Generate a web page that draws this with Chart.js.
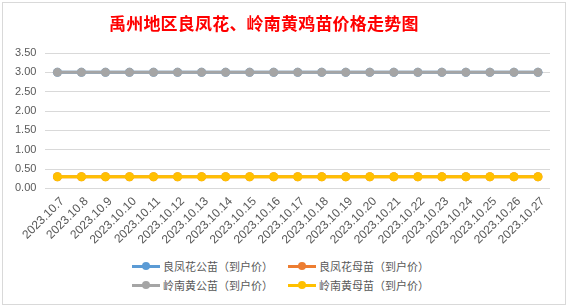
<!DOCTYPE html>
<html>
<head>
<meta charset="utf-8">
<script src="https://cdn.jsdelivr.net/npm/chart.js@4"></script>
<style>
  html, body { margin: 0; padding: 0; background: #fff; }
  #frame {
    position: absolute; left: 2px; top: 2px; width: 562px; height: 301px;
    border: 1px solid #d9d9d9; background: #fff;
  }
  #title {
    position: absolute; left: 106px; top: 8px; white-space: nowrap;
    font-family: "Noto Sans CJK SC", sans-serif; font-size: 17px; font-weight: bold;
    color: #FF0000; line-height: 24px; letter-spacing: 0.2px;
  }
  #wrap { position: absolute; left: 0; top: 0; width: 562px; height: 250px; }
  #legend {
    position: absolute; left: 8px; top: 253px; width: 554px;
    font-family: "Noto Sans CJK SC", sans-serif; font-size: 11px; color: #595959;
  }
  .row { display: flex; justify-content: center; height: 19px; align-items: center; }
  .item { display: flex; align-items: center; width: 156px; }
  .mark { position: relative; width: 28px; height: 8px; margin-right: 3px; }
  .mark .ln { position: absolute; left: 0; top: 3px; width: 28px; height: 3px; }
  .mark .dt { position: absolute; left: 10px; top: 0; width: 8px; height: 8px; border-radius: 50%; }
</style>
</head>
<body>
<div id="frame">
  <div id="wrap"><canvas id="chart_priceTrend"></canvas></div>
  <div id="title"></div>
  <div id="legend"></div>
</div>
<script>
var chartTitle = '禹州地区良凤花、岭南黄鸡苗价格走势图';
var dates = [
  '2023.10.7', '2023.10.8', '2023.10.9', '2023.10.10', '2023.10.11', '2023.10.12', '2023.10.13',
  '2023.10.14', '2023.10.15', '2023.10.16', '2023.10.17', '2023.10.18', '2023.10.19', '2023.10.20',
  '2023.10.21', '2023.10.22', '2023.10.23', '2023.10.24', '2023.10.25', '2023.10.26', '2023.10.27'
];
var seriesNames = ['良凤花公苗（到户价）', '良凤花母苗（到户价）', '岭南黄公苗（到户价）', '岭南黄母苗（到户价）'];
var seriesColors = ['#5B9BD5', '#ED7D31', '#A5A5A5', '#FFC000'];
var lfhMale = [3, 3, 3, 3, 3, 3, 3, 3, 3, 3, 3, 3, 3, 3, 3, 3, 3, 3, 3, 3, 3];
var lfhFemale = [0.3, 0.3, 0.3, 0.3, 0.3, 0.3, 0.3, 0.3, 0.3, 0.3, 0.3, 0.3, 0.3, 0.3, 0.3, 0.3, 0.3, 0.3, 0.3, 0.3, 0.3];
var lnhMale = [3, 3, 3, 3, 3, 3, 3, 3, 3, 3, 3, 3, 3, 3, 3, 3, 3, 3, 3, 3, 3];
var lnhFemale = [0.3, 0.3, 0.3, 0.3, 0.3, 0.3, 0.3, 0.3, 0.3, 0.3, 0.3, 0.3, 0.3, 0.3, 0.3, 0.3, 0.3, 0.3, 0.3, 0.3, 0.3];
var seriesValues = [lfhMale, lfhFemale, lnhMale, lnhFemale];

document.getElementById('title').textContent = chartTitle;

var datasets = seriesNames.map(function(name, i) {
  return {
    label: name,
    data: seriesValues[i],
    borderColor: seriesColors[i],
    backgroundColor: seriesColors[i],
    borderWidth: 3,
    pointRadius: 4.5,
    pointBorderWidth: 0,
    pointHoverRadius: 4.5,
    tension: 0,
    order: seriesNames.length - i   // later series drawn on top, like Excel
  };
});

var chart_priceTrend = new Chart(document.getElementById('chart_priceTrend'), {
  type: 'line',
  data: { labels: dates, datasets: datasets },
  options: {
    animation: false,
    responsive: true,
    maintainAspectRatio: false,
    layout: { padding: { left: 3, right: 15, top: 50, bottom: 0 } },
    plugins: {
      legend: { display: false },
      tooltip: { enabled: false },
      title: { display: false }
    },
    scales: {
      x: {
        type: 'category',
        offset: true,
        grid: { display: false, drawTicks: false },
        border: { display: false },
        ticks: {
          autoSkip: false,
          maxRotation: 45,
          minRotation: 45,
          labelOffset: 5,
          color: '#595959',
          padding: 6,
          font: { family: '"Liberation Sans", sans-serif', size: 12 }
        }
      },
      y: {
        min: 0,
        max: 3.5,
        grid: { color: '#d9d9d9', lineWidth: 1, drawTicks: false },
        border: { display: false },
        ticks: {
          stepSize: 0.5,
          padding: 9,
          color: '#595959',
          font: { family: '"Liberation Sans", sans-serif', size: 11 },
          callback: function(value) { return value.toFixed(2); }
        }
      }
    }
  }
});

// legend laid out in two rows like the original
var legendEl = document.getElementById('legend');
[[0, 1], [2, 3]].forEach(function(pair) {
  var row = document.createElement('div');
  row.className = 'row';
  pair.forEach(function(i) {
    var item = document.createElement('div');
    item.className = 'item';
    item.innerHTML = '<span class="mark"><span class="ln" style="background:' + seriesColors[i] +
      '"></span><span class="dt" style="background:' + seriesColors[i] + '"></span></span>' +
      '<span>' + seriesNames[i] + '</span>';
    row.appendChild(item);
  });
  legendEl.appendChild(row);
});
</script>
</body>
</html>
